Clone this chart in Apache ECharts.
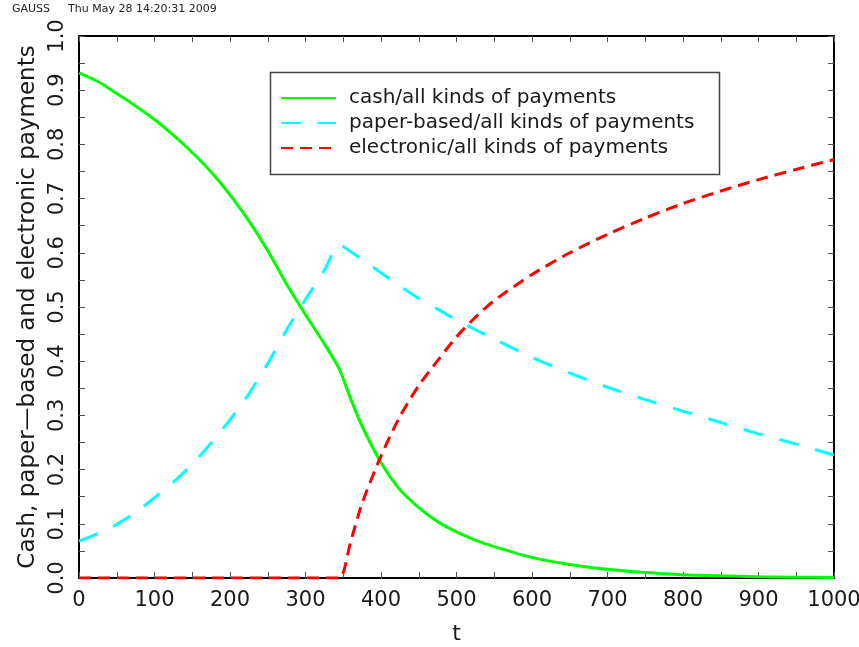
<!DOCTYPE html>
<html>
<head>
<meta charset="utf-8">
<script src="https://cdn.jsdelivr.net/npm/echarts@6/dist/echarts.min.js"></script>
<style>
  html, body { margin: 0; padding: 0; background: #fff; }
  #chart { width: 859px; height: 647px; }
</style>
</head>
<body>
<div id="chart"></div>
<script>
// Time grid (t) shared by all three shares
var tValues = [0, 25, 50, 75, 100, 125, 150, 175, 200, 225, 250, 275, 300, 325, 345,
               360, 375, 400, 425, 450, 475, 500, 525, 550, 600, 650, 700, 750, 800, 850, 900, 950, 1000];

// Share of cash in all kinds of payments
var cashShare = [0.932, 0.916, 0.894, 0.871, 0.846, 0.817, 0.785, 0.749, 0.707, 0.659, 0.604, 0.542, 0.486, 0.432, 0.385,
                 0.330, 0.280, 0.213, 0.163, 0.130, 0.104, 0.085, 0.070, 0.058, 0.038, 0.025, 0.016, 0.010, 0.006, 0.004, 0.0025, 0.0015, 0.001];

// Share of paper-based payments
var paperShare = [0.068, 0.082, 0.099, 0.121, 0.148, 0.177, 0.210, 0.249, 0.292, 0.340, 0.396, 0.458, 0.514, 0.568, 0.615,
                  0.602, 0.588, 0.563, 0.539, 0.516, 0.496, 0.476, 0.458, 0.441, 0.407, 0.378, 0.352, 0.329, 0.308, 0.287, 0.266, 0.247, 0.227];

// Share of electronic payments
var electronicShare = [0, 0, 0, 0, 0, 0, 0, 0, 0, 0, 0, 0, 0, 0, 0,
                       0.068, 0.138, 0.225, 0.298, 0.355, 0.401, 0.445, 0.481, 0.512, 0.560, 0.600, 0.634, 0.664, 0.691, 0.714, 0.735, 0.754, 0.772];

var seriesNames = ['cash/all kinds of payments', 'paper-based/all kinds of payments', 'electronic/all kinds of payments'];

var FONT = 'DejaVu Sans';
var TEXT = '#1a1a1a';

function pairs(ys) {
  return tValues.map(function (t, i) { return [t, ys[i]]; });
}

var chart = echarts.init(document.getElementById('chart'), null, { renderer: 'canvas' });

var frameLine = { show: true, onZero: false, lineStyle: { color: '#000', width: 2 } };
var tickIn = { show: true, inside: true, length: 6, lineStyle: { color: '#555', width: 1 } };

chart.setOption({
  animation: false,
  backgroundColor: '#fff',
  grid: { left: 79, right: 25, top: 36, bottom: 69, containLabel: false, outerBoundsMode: 'none' },
  xAxis: [
    {
      type: 'value', min: 0, max: 1000, interval: 50, position: 'bottom',
      name: 't', nameLocation: 'middle', nameGap: 45,
      nameTextStyle: { fontFamily: FONT, fontSize: 22, color: TEXT },
      axisLine: frameLine, axisTick: tickIn,
      axisLabel: {
        margin: 12, fontFamily: FONT, fontSize: 21, color: TEXT,
        showMinLabel: true, showMaxLabel: true,
        formatter: function (v) { return Math.round(v) % 100 === 0 ? String(Math.round(v)) : ''; }
      },
      splitLine: { show: false }
    },
    {
      type: 'value', min: 0, max: 1000, interval: 50, position: 'top',
      axisLine: frameLine, axisTick: tickIn, axisLabel: { show: false }, splitLine: { show: false }
    }
  ],
  yAxis: [
    {
      type: 'value', min: 0, max: 1, interval: 0.05, position: 'left',
      name: 'Cash, paper\u2014based and electronic payments',
      nameLocation: 'middle', nameRotate: 90, nameGap: 37,
      nameTextStyle: { fontFamily: FONT, fontSize: 23, color: TEXT },
      axisLine: frameLine, axisTick: tickIn,
      axisLabel: {
        rotate: 90, margin: 11, fontFamily: FONT, fontSize: 21, color: TEXT,
        showMinLabel: true, showMaxLabel: true,
        formatter: function (v) { var k = Math.round(v * 20); return k % 2 === 0 ? (k / 20).toFixed(1) : ''; }
      },
      splitLine: { show: false }
    },
    {
      type: 'value', min: 0, max: 1, interval: 0.05, position: 'right',
      axisLine: frameLine, axisTick: tickIn, axisLabel: { show: false }, splitLine: { show: false }
    }
  ],
  legend: {
    orient: 'vertical', left: 280, top: 88, padding: 0,
    itemWidth: 55, itemHeight: 14, itemGap: 5,
    itemStyle: { opacity: 0 },
    textStyle: { fontFamily: FONT, fontSize: 20, color: TEXT, lineHeight: 20, padding: [0, 0, 0, 8] },
    data: seriesNames
  },
  graphic: [
    { type: 'text', left: 12, top: 4, style: { text: 'GAUSS', font: '11px "DejaVu Sans"', fill: '#222' } },
    { type: 'text', left: 68, top: 4, style: { text: 'Thu May 28 14:20:31 2009', font: '11px "DejaVu Sans"', fill: '#222' } },
    { type: 'rect', left: 268, top: 70, shape: { width: 449, height: 102 },
      style: { fill: 'none', stroke: '#444', lineWidth: 1.5 }, z: 10 }
  ],
  series: [
    {
      name: seriesNames[0], type: 'line', data: pairs(cashShare),
      symbol: 'none', smooth: 0.25, z: 5,
      lineStyle: { color: '#00ff00', width: 3, type: 'solid' },
      itemStyle: { color: '#00ff00' }
    },
    {
      name: seriesNames[1], type: 'line', data: pairs(paperShare),
      symbol: 'none', smooth: 0.25, z: 4,
      lineStyle: { color: '#00ffff', width: 3, type: [20, 17] },
      itemStyle: { color: '#00ffff' }
    },
    {
      name: seriesNames[2], type: 'line', data: pairs(electronicShare),
      symbol: 'none', smooth: 0.25, z: 6,
      lineStyle: { color: '#ff0000', width: 3, type: [12, 7] },
      itemStyle: { color: '#ff0000' }
    }
  ]
});
</script>
</body>
</html>
